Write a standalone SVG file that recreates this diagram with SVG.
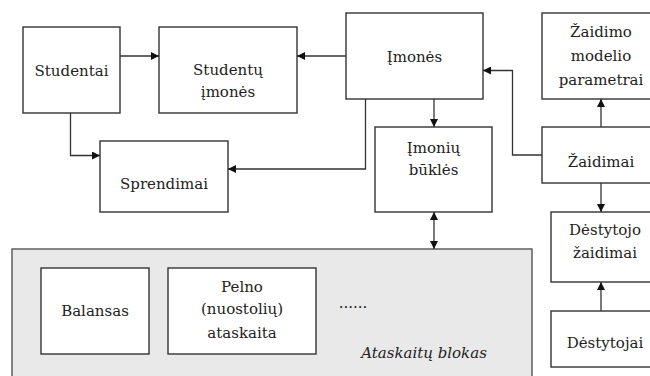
<svg xmlns="http://www.w3.org/2000/svg" width="650" height="376" viewBox="0 0 650 376">
<defs>
<marker id="ah" viewBox="0 0 10 10" refX="10" refY="5" markerWidth="8" markerHeight="8" markerUnits="userSpaceOnUse" orient="auto-start-reverse">
<path d="M0,0 L10,5 L0,10 Z" fill="#111"/>
</marker>
<style>
.box{fill:#fff;stroke:#333;stroke-width:1.4}
.blk{fill:#e9e9e9;stroke:#555;stroke-width:1.4}
.t{font-family:"DejaVu Serif","Liberation Serif",serif;font-size:15px;fill:#222;text-anchor:middle}
.it{font-style:italic}
.c{fill:none;stroke:#333;stroke-width:1.3}
</style>
</defs>
<rect width="650" height="376" fill="#fff"/>
<g id="ataskaitu-blokas">
<rect class="blk" x="12" y="249" width="520" height="140"/>
<text class="t it" x="424" y="358">Ataskaitų blokas</text>
<text class="t" x="353" y="308">......</text>
</g>
<g id="balansas">
<rect class="box" x="41" y="268" width="108" height="86"/>
<text class="t" x="95" y="316">Balansas</text>
</g>
<g id="pelno">
<rect class="box" x="168" y="268" width="148" height="86"/>
<text class="t" x="242" y="292">Pelno</text>
<text class="t" x="242" y="314">(nuostolių)</text>
<text class="t" x="242" y="338">ataskaita</text>
</g>
<g id="studentai">
<rect class="box" x="23" y="27" width="97" height="86"/>
<text class="t" x="71.5" y="76">Studentai</text>
</g>
<g id="studentu-imones">
<rect class="box" x="159" y="27" width="138" height="86"/>
<text class="t" x="228" y="75">Studentų</text>
<text class="t" x="228" y="97">įmonės</text>
</g>
<g id="sprendimai">
<rect class="box" x="100" y="141" width="128" height="71"/>
<text class="t" x="164" y="189">Sprendimai</text>
</g>
<g id="imones">
<rect class="box" x="346" y="13" width="137" height="86"/>
<text class="t" x="414.5" y="62">Įmonės</text>
</g>
<g id="imoniu-bukles">
<rect class="box" x="375" y="127" width="117" height="85"/>
<text class="t" x="433.5" y="153">Įmonių</text>
<text class="t" x="433.5" y="175">būklės</text>
</g>
<g id="zaidimo-modelio-parametrai">
<rect class="box" x="542" y="13" width="117" height="86"/>
<text class="t" x="601" y="37">Žaidimo</text>
<text class="t" x="601" y="61">modelio</text>
<text class="t" x="601" y="85">parametrai</text>
</g>
<g id="zaidimai">
<rect class="box" x="542" y="127" width="117" height="56"/>
<text class="t" x="601" y="167">Žaidimai</text>
</g>
<g id="destytojo-zaidimai">
<rect class="box" x="551" y="212" width="108" height="70"/>
<text class="t" x="605" y="235">Dėstytojo</text>
<text class="t" x="605" y="258">žaidimai</text>
</g>
<g id="destytojai">
<rect class="box" x="551" y="311" width="108" height="56"/>
<text class="t" x="605" y="348">Dėstytojai</text>
</g>
<g id="connectors">
<path class="c" d="M120,56 H159" marker-end="url(#ah)"/>
<path class="c" d="M70.5,113 V155.5 H100" marker-end="url(#ah)"/>
<path class="c" d="M346,56 H297" marker-end="url(#ah)"/>
<path class="c" d="M365.5,99 V169 H228" marker-end="url(#ah)"/>
<path class="c" d="M434,99 V127" marker-end="url(#ah)"/>
<path class="c" d="M434,212 V249" marker-start="url(#ah)" marker-end="url(#ah)"/>
<path class="c" d="M542,155 H512.5 V70.5 H483" marker-end="url(#ah)"/>
<path class="c" d="M601,127 V99" marker-end="url(#ah)"/>
<path class="c" d="M601,183 V212" marker-end="url(#ah)"/>
<path class="c" d="M601,311 V282" marker-end="url(#ah)"/>
</g>
</svg>
